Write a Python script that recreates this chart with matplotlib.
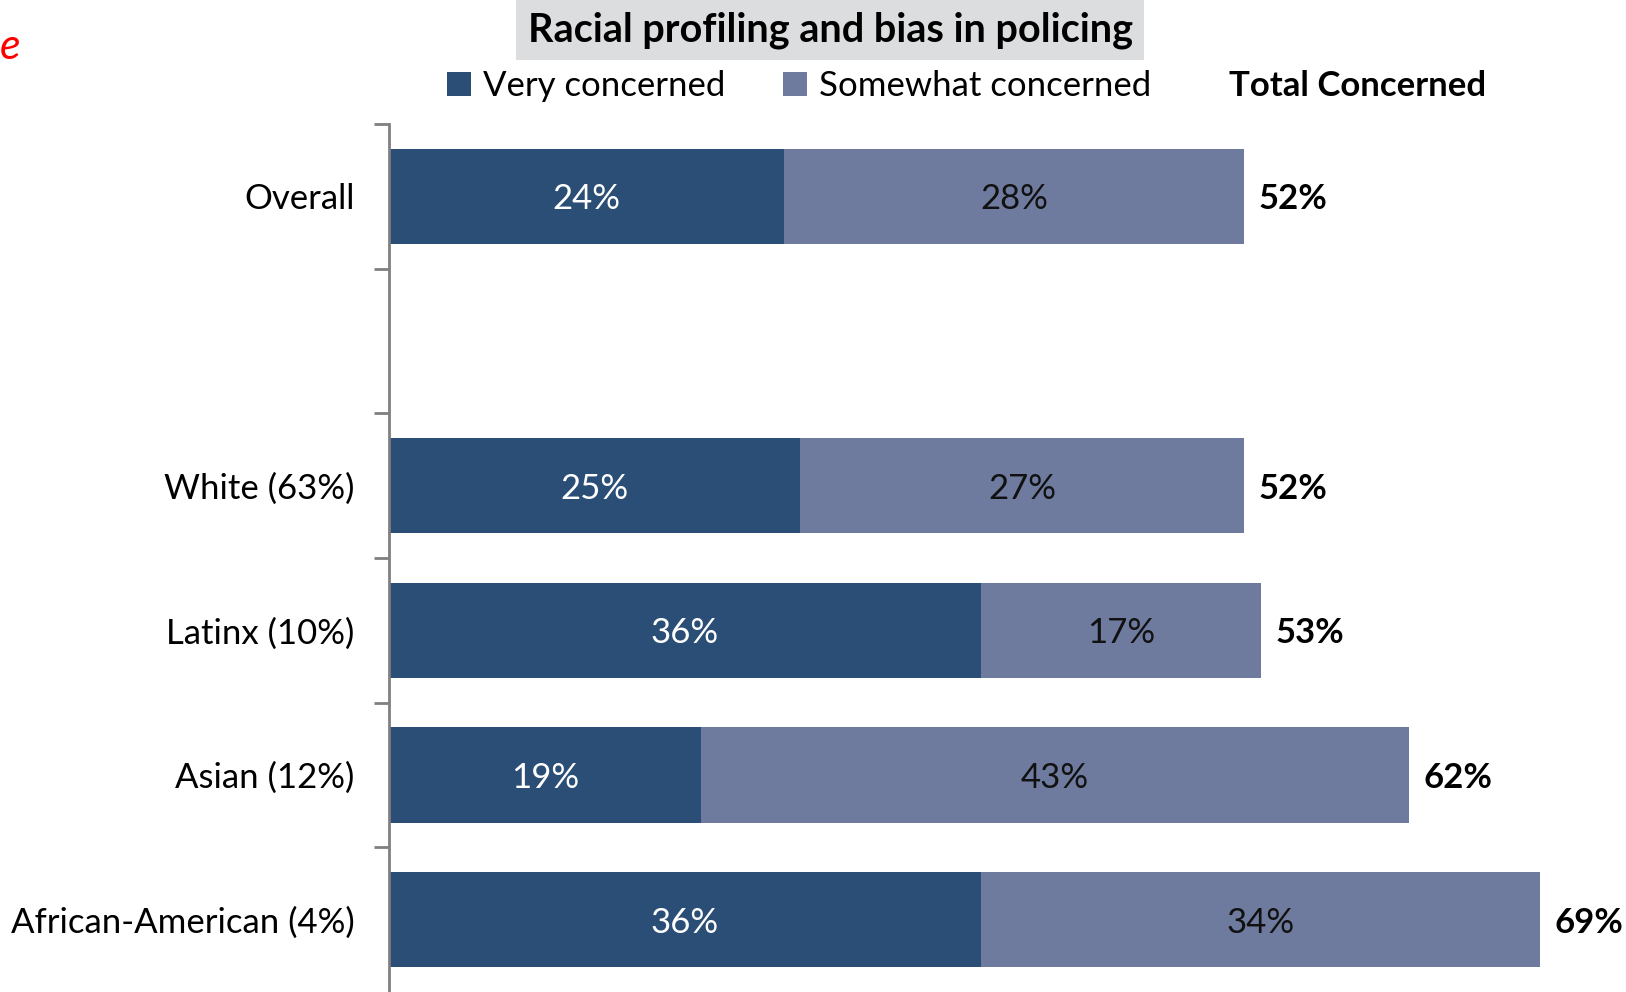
import numpy as np
import matplotlib
matplotlib.use("Agg")
from matplotlib import pyplot as plt

plt.rcParams['font.family'] = ['Lato', 'DejaVu Sans']

# chart data
categories = ["Overall", "", "White (63%)", "Latinx (10%)", "Asian (12%)", "African-American (4%)"]
very = [24, None, 25, 36, 19, 36]
somewhat = [28, None, 27, 17, 43, 34]
total = [52, None, 52, 53, 62, 69]

dark = "#2B4E76"
light = "#6E7B9E"
fs = 25

fig = plt.figure(figsize=(16.26, 9.92), dpi=100)
ax = fig.add_axes([389 / 1626, 0, 1230 / 1626, (992 - 124) / 992])

rows = [i for i, v in enumerate(very) if v is not None]
v = np.array([very[i] for i in rows])
s = np.array([somewhat[i] for i in rows])
t = [total[i] for i in rows]

b1 = ax.barh(rows, v, height=0.66, color=dark, label="Very concerned")
b2 = ax.barh(rows, s, left=v, height=0.66, color=light, label="Somewhat concerned")

for r, a, b, tot in zip(rows, v, s, t):
    ax.text(a / 2, r, f"{a}%", ha="center", va="center_baseline", color="white", fontsize=fs)
    ax.text(a + b / 2, r, f"{b}%", ha="center", va="center_baseline", color="#111111", fontsize=fs)
    ax.text(a + b + 0.9, r, f"{tot}%", ha="left", va="center_baseline", color="black",
            fontsize=fs, fontweight="bold")

ax.set_ylim(5.5, -0.5)
ax.set_xlim(0, 74.8)
ax.set_yticks(range(len(categories)))
ax.set_yticklabels(categories, fontsize=fs, va="center_baseline")
ax.tick_params(axis="y", which="major", length=0, pad=25)
ax.set_yticks(np.arange(-0.5, 5.0, 1.0), minor=True)
ax.tick_params(axis="y", which="minor", length=11, width=2, color="#808080")
ax.set_xticks([])
for side in ["top", "right", "bottom"]:
    ax.spines[side].set_visible(False)
ax.spines["left"].set_color("#808080")
ax.spines["left"].set_linewidth(2)

fig.text(830 / 1626, 1 - 30 / 992, "Racial profiling and bias in policing", ha="center", va="center",
         fontsize=28.5, fontweight="bold",
         bbox=dict(facecolor="#DCDDDE", edgecolor="none", boxstyle="square,pad=0.28"))

fig.legend(handles=[b1, b2], loc="center", bbox_to_anchor=(799 / 1626, 1 - 86 / 992), ncol=2,
           frameon=False, fontsize=fs, handlelength=0.7, handleheight=0.7,
           handletextpad=0.35, columnspacing=1.65, borderpad=0)
fig.text(1358 / 1626, 1 - 86 / 992, "Total Concerned", ha="center", va="center",
         fontsize=fs, fontweight="bold")

fig.text(0, 1 - 47 / 992, "e", ha="left", va="center", color="red", fontsize=31, style="italic")

fig.savefig("out.png", dpi=100)
